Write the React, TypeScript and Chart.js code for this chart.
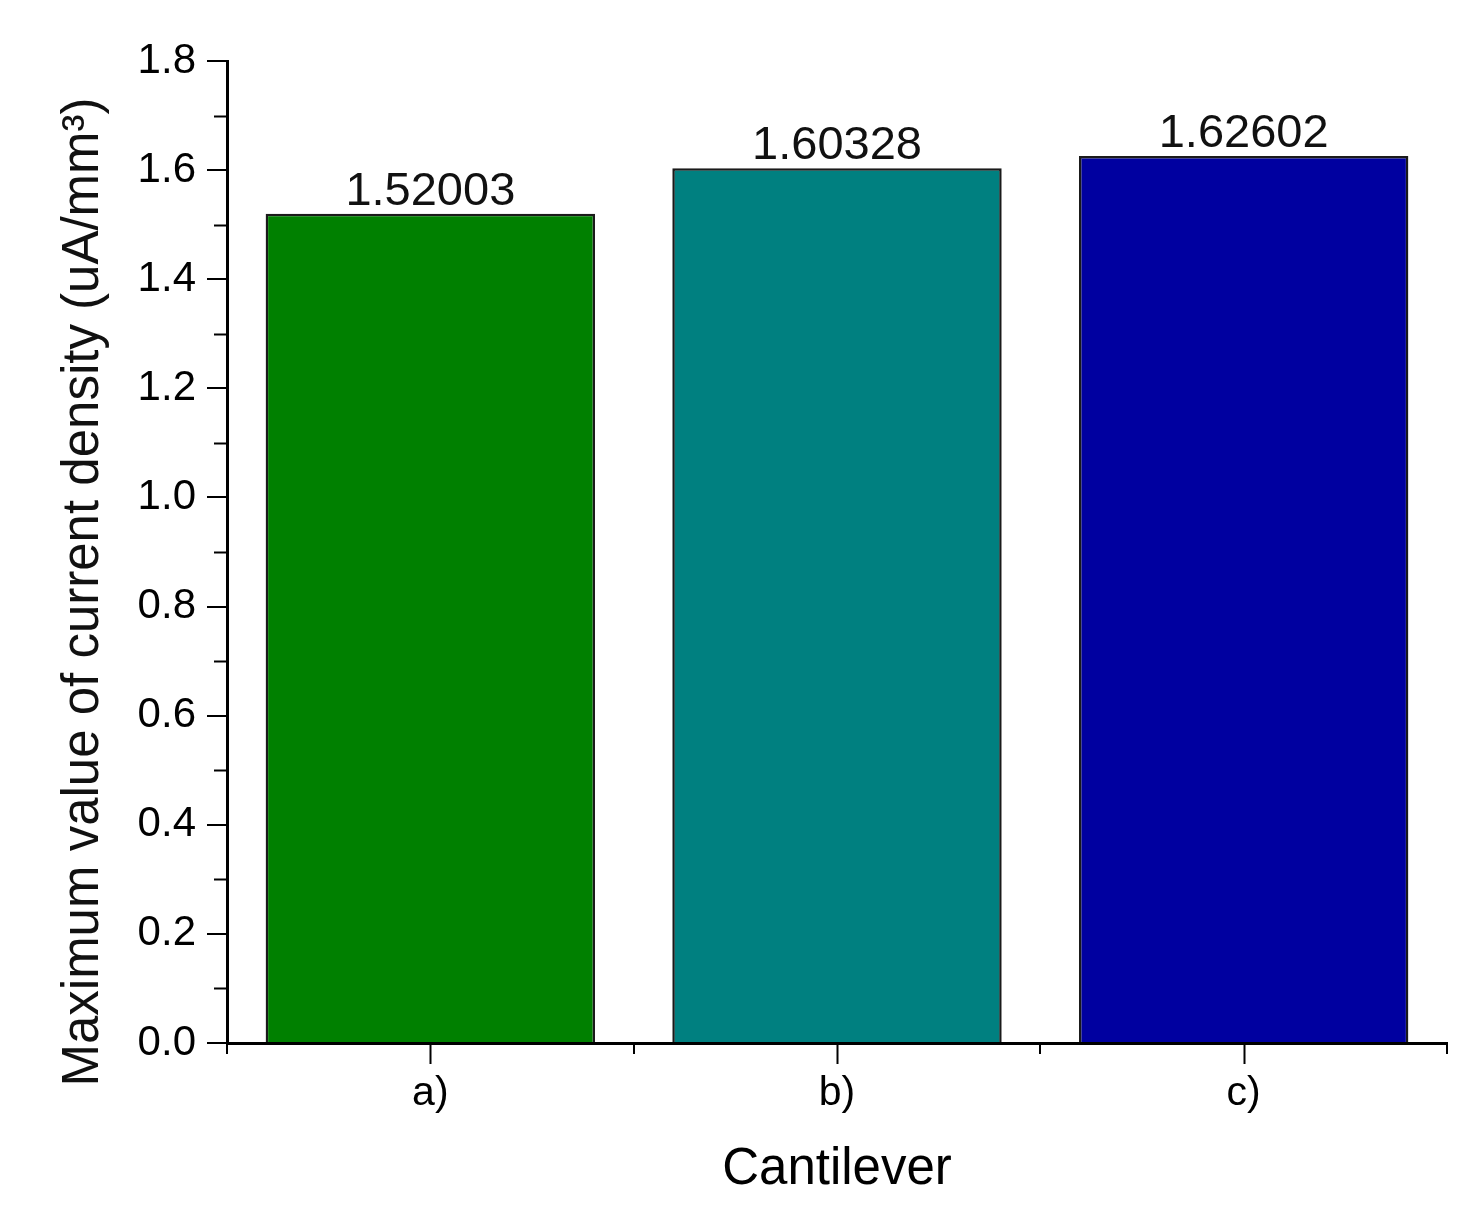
import React, { useEffect, useRef } from "react";
import { Chart, registerables } from "chart.js";

Chart.register(...registerables);

const categories = ["a)", "b)", "c)"];
const values = [1.52003, 1.60328, 1.62602];
const barColors = ["#008000", "#008080", "#0000A0"];
const yMajorTicks = [0, 0.2, 0.4, 0.6, 0.8, 1.0, 1.2, 1.4, 1.6, 1.8];
const yMinorTicks = [0.1, 0.3, 0.5, 0.7, 0.9, 1.1, 1.3, 1.5, 1.7];
const yTitle = "Maximum value of current density (uA/mm³)";
const xTitle = "Cantilever";

const FONT = "'Liberation Sans', Arial, Helvetica, sans-serif";

export default function App() {
  const ref = useRef<HTMLCanvasElement | null>(null);

  useEffect(() => {
    document.body.style.margin = "0";
    document.body.style.overflow = "hidden";
    const canvas = ref.current;
    if (!canvas) return;

    const extras = {
      id: "extras",
      afterDatasetsDraw(chart: any) {
        const ctx = chart.ctx;
        const xs = chart.scales.x;
        const ys = chart.scales.y;
        ctx.save();
        ctx.strokeStyle = "#000";
        ctx.lineWidth = 2;
        // minor y ticks
        yMinorTicks.forEach((v) => {
          const y = Math.round(ys.getPixelForValue(v)) + 0.5;
          ctx.beginPath();
          ctx.moveTo(xs.left - 13, y);
          ctx.lineTo(xs.left, y);
          ctx.stroke();
        });
        // major x ticks at category centers
        categories.forEach((_, i) => {
          const x = Math.round(xs.getPixelForValue(i)) + 0.5;
          ctx.beginPath();
          ctx.moveTo(x, ys.bottom);
          ctx.lineTo(x, ys.bottom + 21);
          ctx.stroke();
        });
        // value labels
        const meta = chart.getDatasetMeta(0);
        ctx.fillStyle = "#111";
        ctx.font = `47px ${FONT}`;
        ctx.textAlign = "center";
        ctx.textBaseline = "alphabetic";
        meta.data.forEach((bar: any, i: number) => {
          ctx.fillText(String(values[i]), bar.x, bar.y - 9);
        });
        // y title
        ctx.font = `51px ${FONT}`;
        ctx.textBaseline = "middle";
        ctx.translate(84, 592);
        ctx.rotate(-Math.PI / 2);
        ctx.fillText(yTitle, 0, 0);
        ctx.restore();
      },
    };

    const chart = new Chart(canvas, {
      type: "bar",
      data: {
        labels: categories,
        datasets: [
          {
            data: values,
            backgroundColor: barColors,
            borderColor: "#1a1a1a",
            borderWidth: 2.5,
            barPercentage: 0.81,
            categoryPercentage: 1,
          },
        ],
      },
      options: {
        responsive: false,
        animation: false,
        devicePixelRatio: 1,
        layout: { padding: { left: 0, top: 61, right: 32, bottom: 0 } },
        plugins: {
          legend: { display: false },
          tooltip: { enabled: false },
        },
        scales: {
          x: {
            offset: true,
            grid: {
              offset: true,
              drawOnChartArea: false,
              drawTicks: true,
              tickLength: 11,
              color: "#000",
              lineWidth: 2,
            },
            border: { color: "#000", width: 3 },
            ticks: {
              color: "#000",
              font: { family: FONT, size: 41 },
              padding: 15,
            },
            title: {
              display: true,
              text: xTitle,
              color: "#000",
              font: { family: FONT, size: 51 },
              padding: { top: 0, bottom: 27 },
            },
            afterFit(scale: any) {
              scale.height = 185;
            },
          },
          y: {
            min: 0,
            max: 1.8,
            afterBuildTicks(scale: any) {
              scale.ticks = yMajorTicks.map((v) => ({ value: v }));
            },
            grid: {
              drawOnChartArea: false,
              drawTicks: true,
              tickLength: 20,
              color: "#000",
              lineWidth: 2,
            },
            border: { color: "#000", width: 3 },
            ticks: {
              color: "#000",
              font: { family: FONT, size: 42 },
              padding: 11,
              callback: (v: any) => Number(v).toFixed(1),
            },
            afterFit(scale: any) {
              scale.width = 227;
            },
          },
        },
      },
      plugins: [extras],
    });

    return () => chart.destroy();
  }, []);

  return (
    <canvas
      ref={ref}
      width={1479}
      height={1228}
      style={{ display: "block", width: 1479, height: 1228 }}
    />
  );
}
